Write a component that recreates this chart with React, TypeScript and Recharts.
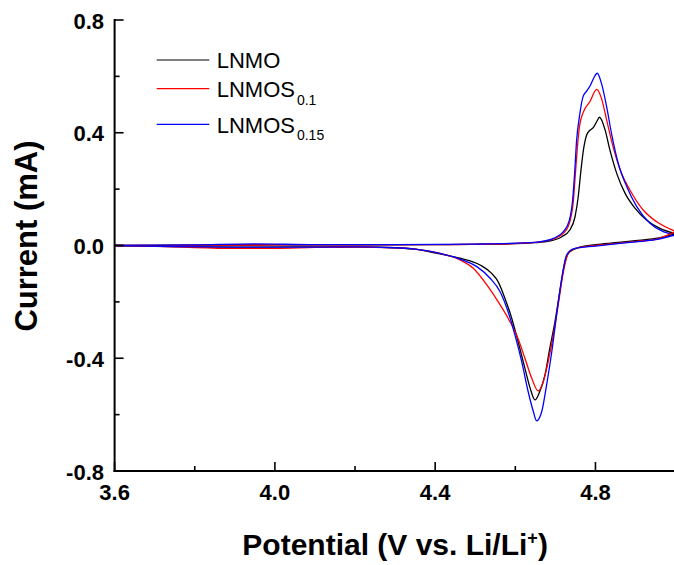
import React from 'react';
import { LineChart, Line, XAxis, YAxis, Legend } from 'recharts';

type Pt = [number, number];

// --- DATA: potential (V vs Li/Li+) , current (mA) ---
// anodic = upper branch, cathodic = lower branch (both listed with rising potential)
const lnmoAnodic: Pt[] = [
  [3.6, 0], [3.8, 0.001], [4.0, 0.002], [4.2, 0.002], [4.4, 0.003], [4.55, 0.005],
  [4.65, 0.01], [4.687, 0.016], [4.716, 0.031], [4.736, 0.055], [4.749, 0.102],
  [4.757, 0.173], [4.763, 0.256], [4.77, 0.339], [4.778, 0.392], [4.785, 0.407],
  [4.795, 0.419], [4.803, 0.439], [4.81, 0.455], [4.824, 0.41], [4.836, 0.339],
  [4.853, 0.256], [4.874, 0.185], [4.899, 0.132], [4.928, 0.09], [4.961, 0.061], [5.0, 0.042],
];
const lnmoCathodic: Pt[] = [
  [3.6, 0], [3.75, -0.004], [3.9, -0.006], [4.05, -0.005], [4.2, -0.005], [4.3, -0.008],
  [4.35, -0.013], [4.412, -0.03], [4.462, -0.045], [4.512, -0.069], [4.541, -0.099],
  [4.557, -0.128], [4.574, -0.187], [4.591, -0.258], [4.607, -0.341], [4.624, -0.436],
  [4.637, -0.506], [4.649, -0.548], [4.661, -0.518], [4.674, -0.459], [4.686, -0.365],
  [4.699, -0.27], [4.711, -0.164], [4.724, -0.057], [4.736, -0.022], [4.761, -0.006],
  [4.8, 0.003], [4.85, 0.01], [4.9, 0.017], [4.95, 0.025], [5.0, 0.042],
];

const lnmos01Anodic: Pt[] = [
  [3.6, 0], [3.8, 0.001], [4.0, 0.002], [4.2, 0.002], [4.4, 0.003], [4.55, 0.005],
  [4.65, 0.011], [4.687, 0.02], [4.72, 0.043], [4.736, 0.084], [4.745, 0.161],
  [4.75, 0.256], [4.755, 0.35], [4.76, 0.421], [4.77, 0.474], [4.786, 0.51],
  [4.803, 0.554], [4.815, 0.522], [4.828, 0.445], [4.844, 0.35], [4.865, 0.256],
  [4.886, 0.197], [4.919, 0.126], [4.953, 0.084], [5.0, 0.05],
];
const lnmos01Cathodic: Pt[] = [
  [3.6, 0], [3.75, -0.005], [3.9, -0.01], [4.0, -0.01], [4.1, -0.007], [4.2, -0.006],
  [4.3, -0.008], [4.35, -0.013], [4.412, -0.028], [4.462, -0.051], [4.495, -0.081],
  [4.529, -0.14], [4.557, -0.199], [4.582, -0.258], [4.603, -0.317], [4.624, -0.4],
  [4.641, -0.471], [4.657, -0.516], [4.67, -0.483], [4.682, -0.412], [4.695, -0.317],
  [4.707, -0.211], [4.72, -0.093], [4.732, -0.028], [4.75, -0.01], [4.8, 0.0],
  [4.85, 0.007], [4.9, 0.014], [4.95, 0.022], [5.0, 0.05],
];

const lnmos015Anodic: Pt[] = [
  [3.6, 0], [3.8, 0.002], [3.95, 0.006], [4.1, 0.003], [4.3, 0.003], [4.5, 0.005],
  [4.62, 0.009], [4.661, 0.013], [4.695, 0.025], [4.72, 0.049], [4.735, 0.09],
  [4.743, 0.161], [4.748, 0.256], [4.753, 0.374], [4.76, 0.457], [4.769, 0.528],
  [4.778, 0.548], [4.786, 0.565], [4.796, 0.595], [4.8045, 0.611], [4.815, 0.575],
  [4.828, 0.492], [4.84, 0.398], [4.857, 0.291], [4.878, 0.209], [4.903, 0.138],
  [4.936, 0.079], [4.969, 0.049], [5.0, 0.038],
];
const lnmos015Cathodic: Pt[] = [
  [3.6, 0], [3.75, -0.004], [3.9, -0.006], [4.05, -0.006], [4.2, -0.005], [4.3, -0.008],
  [4.35, -0.013], [4.412, -0.028], [4.462, -0.048], [4.504, -0.075], [4.537, -0.116],
  [4.562, -0.164], [4.582, -0.235], [4.599, -0.317], [4.616, -0.412], [4.632, -0.518],
  [4.645, -0.589], [4.653, -0.622], [4.666, -0.589], [4.678, -0.495], [4.691, -0.377],
  [4.703, -0.246], [4.716, -0.116], [4.728, -0.034], [4.745, -0.012], [4.8, -0.002],
  [4.85, 0.006], [4.9, 0.013], [4.95, 0.021], [5.0, 0.038],
];

const seriesNames = ['LNMO', 'LNMOS', 'LNMOS'];
const seriesSubs = ['', '0.1', '0.15'];
const seriesColors = ['#000000', '#ff0000', '#0000ff'];
const seriesAnodic = [lnmoAnodic, lnmos01Anodic, lnmos015Anodic];
const seriesCathodic = [lnmoCathodic, lnmos01Cathodic, lnmos015Cathodic];

const xTicks = [3.6, 3.8, 4.0, 4.2, 4.4, 4.6, 4.8, 5.0];
const xTickLabels = ['3.6', '', '4.0', '', '4.4', '', '4.8', ''];
const yTicks = [-0.8, -0.6, -0.4, -0.2, 0, 0.2, 0.4, 0.6, 0.8];
const yTickLabels = ['-0.8', '', '-0.4', '', '0.0', '', '0.4', '', '0.8'];

// --- LAYOUT ---
const W = 690;
const H = 565;
const PLOT_LEFT = 114.6;
const PLOT_RIGHT = 675.6;
const PLOT_TOP = 20;
const PLOT_BOTTOM = 471;
const TICK_MARGIN = 10;
const MAJOR = 9;
const MINOR = 5;
const FONT = '"Liberation Sans", Arial, Helvetica, sans-serif';
const legendRowY = [60, 88.7, 124.3];

const toRows = (pts: Pt[]) => pts.map(([v, i]) => ({ v, i }));

const BottomTick = ({ x, y, payload }: any) => {
  const k = xTicks.indexOf(payload.value);
  const label = xTickLabels[k];
  const axisY = y - TICK_MARGIN;
  return (
    <g>
      <line x1={x} x2={x} y1={axisY} y2={axisY - (label ? MAJOR : MINOR)} stroke="#000" strokeWidth={1.6} />
      {label && (
        <text x={x} y={axisY + 29} textAnchor="middle" fontFamily={FONT} fontWeight={700} fontSize={22} fill="#000">
          {label}
        </text>
      )}
    </g>
  );
};

const LeftTick = ({ x, y, payload }: any) => {
  const k = yTicks.indexOf(payload.value);
  const label = yTickLabels[k];
  const axisX = x + TICK_MARGIN;
  return (
    <g>
      <line x1={axisX} x2={axisX + (label ? MAJOR : MINOR)} y1={y} y2={y} stroke="#000" strokeWidth={1.6} />
      {label && (
        <text x={axisX - 10.6} y={y + 8.5} textAnchor="end" fontFamily={FONT} fontWeight={700} fontSize={22} fill="#000">
          {label}
        </text>
      )}
    </g>
  );
};

const TopTick = ({ x, y }: any) => (
  <line x1={x} x2={x} y1={y} y2={y + MINOR} stroke="#000" strokeWidth={1.6} />
);

const RightTick = ({ x, y, payload }: any) => {
  const k = yTicks.indexOf(payload.value);
  return <line x1={x} x2={x - (yTickLabels[k] ? MAJOR : MINOR)} y1={y} y2={y} stroke="#000" strokeWidth={1.6} />;
};

const XTitle = () => (
  <text x={(PLOT_LEFT + PLOT_RIGHT) / 2} y={555} textAnchor="middle" fontFamily={FONT} fontWeight={700} fontSize={30} fill="#000">
    Potential (V vs. Li/Li
    <tspan dy={-11} fontSize={18}>+</tspan>
    <tspan dy={11}>)</tspan>
  </text>
);

const YTitle = () => (
  <text
    transform={`translate(37, 236) rotate(-90)`}
    textAnchor="middle"
    fontFamily={FONT}
    fontWeight={700}
    fontSize={31}
    fill="#000"
  >
    Current (mA)
  </text>
);

const LegendBox = () => (
  <svg width={W} height={H} style={{ position: 'absolute', left: 0, top: 0, overflow: 'visible', pointerEvents: 'none' }}>
    {seriesNames.map((name, k) => (
      <g key={k}>
        <line x1={156.7} x2={209.3} y1={legendRowY[k]} y2={legendRowY[k]} stroke={seriesColors[k]} strokeWidth={1.2} />
        <text x={216.7} y={legendRowY[k] + 8.3} fontFamily={FONT} fontSize={22} fill="#000">
          {name}
          {seriesSubs[k] && (
            <tspan dx={2} dy={7.5} fontSize={14}>
              {seriesSubs[k]}
            </tspan>
          )}
        </text>
      </g>
    ))}
  </svg>
);

const axisLine = { stroke: '#000', strokeWidth: 2, strokeLinecap: 'square' as const };

export default function App() {
  return (
    <div style={{ position: 'absolute', left: 0, top: 0, width: 674, height: 565, overflow: 'hidden', background: '#fff' }}>
      <LineChart
        width={W}
        height={H}
        margin={{ top: PLOT_TOP, right: W - PLOT_RIGHT, bottom: 0, left: 0 }}
        style={{ fontFamily: FONT }}
      >
        <XAxis
          type="number"
          dataKey="v"
          domain={[3.6, 5.0]}
          ticks={xTicks}
          interval={0}
          height={H - PLOT_BOTTOM}
          tickSize={0}
          tickMargin={TICK_MARGIN}
          tickLine={false}
          axisLine={axisLine}
          tick={(p: any) => <BottomTick {...p} />}
          label={() => <XTitle />}
          allowDataOverflow
        />
        <XAxis
          xAxisId="top"
          orientation="top"
          type="number"
          dataKey="v"
          domain={[3.6, 5.0]}
          ticks={xTicks}
          interval={0}
          height={0}
          tickSize={0}
          tickMargin={0}
          tickLine={false}
          axisLine={axisLine}
          tick={(p: any) => <TopTick {...p} />}
          allowDataOverflow
        />
        <YAxis
          type="number"
          domain={[-0.8, 0.8]}
          ticks={yTicks}
          interval={0}
          width={PLOT_LEFT}
          tickSize={0}
          tickMargin={TICK_MARGIN}
          tickLine={false}
          axisLine={axisLine}
          tick={(p: any) => <LeftTick {...p} />}
          label={() => <YTitle />}
          allowDataOverflow
        />
        <YAxis
          yAxisId="right"
          orientation="right"
          type="number"
          domain={[-0.8, 0.8]}
          ticks={yTicks}
          interval={0}
          width={0}
          tickSize={0}
          tickMargin={0}
          tickLine={false}
          axisLine={axisLine}
          tick={(p: any) => <RightTick {...p} />}
          allowDataOverflow
        />
        <Legend
          content={<LegendBox />}
          layout="horizontal"
          verticalAlign="middle"
          align="center"
          wrapperStyle={{ left: 0, top: 0, width: 0, height: 0, overflow: 'visible' }}
        />
        {seriesNames.map((name, k) => (
          <Line
            key={`a${k}`}
            data={toRows(seriesAnodic[k])}
            dataKey="i"
            name={`${name}${seriesSubs[k]}`}
            type="monotone"
            stroke={seriesColors[k]}
            strokeWidth={1.3}
            dot={false}
            activeDot={false}
            isAnimationActive={false}
          />
        ))}
        {seriesNames.map((name, k) => (
          <Line
            key={`c${k}`}
            data={toRows(seriesCathodic[k])}
            dataKey="i"
            name={`${name}${seriesSubs[k]} reverse`}
            legendType="none"
            type="monotone"
            stroke={seriesColors[k]}
            strokeWidth={1.3}
            dot={false}
            activeDot={false}
            isAnimationActive={false}
          />
        ))}
      </LineChart>
    </div>
  );
}
